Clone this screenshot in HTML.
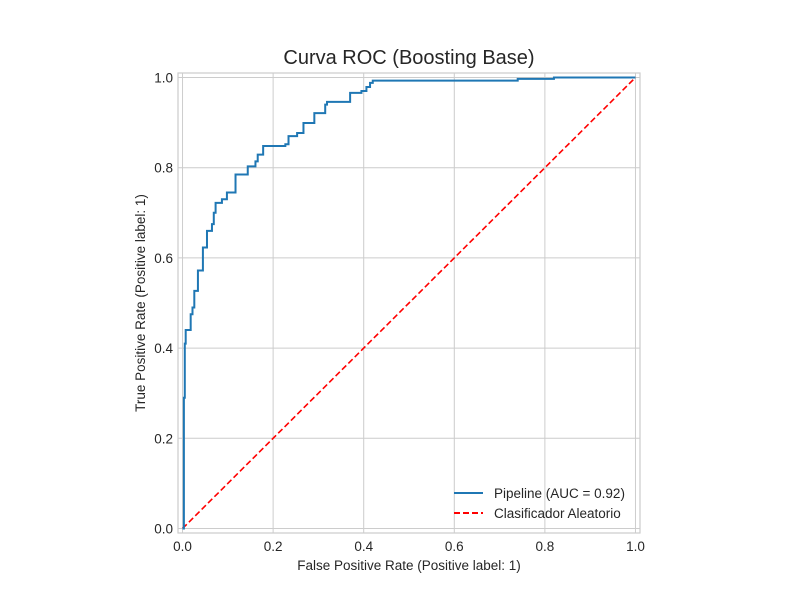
<!DOCTYPE html>
<html><head><meta charset="utf-8">
<style>
body{margin:0;background:#fff;}
svg text{font-family:"Liberation Sans","DejaVu Sans",sans-serif;fill:#262626;}
</style></head>
<body>
<svg id="chart" width="800" height="600" xmlns="http://www.w3.org/2000/svg">
<rect width="800" height="600" fill="#fff"/>
<g id="grid"></g>
<g id="ticks"></g>
<rect x="178" y="73" width="462" height="460" fill="none" stroke="#cccccc" stroke-width="1.2"/>
<g id="series"></g>
<text x="409" y="64" text-anchor="middle" font-size="20">Curva ROC (Boosting Base)</text>
<text x="409" y="570" text-anchor="middle" font-size="13.5">False Positive Rate (Positive label: 1)</text>
<text x="0" y="0" transform="translate(145,303) rotate(-90)" text-anchor="middle" font-size="13.5">True Positive Rate (Positive label: 1)</text>
<g>
<g>
<line x1="454" y1="493" x2="483" y2="493" stroke="#1f77b4" stroke-width="2"/>
<text x="494" y="498" font-size="13.5">Pipeline (AUC = 0.92)</text></g>
<g>
<line x1="454" y1="513" x2="483" y2="513" stroke="#ff0000" stroke-width="2" stroke-dasharray="6,3"/>
<text x="494" y="518" font-size="13.5">Clasificador Aleatorio</text></g>
</g>
</svg>
<script>
const fpr = [0.003,0.005,0.007,0.018,0.022,0.026,0.034,0.045,0.045,0.054,0.065,0.069,0.073,0.087,0.098,0.117,0.144,0.161,0.166,0.178,0.227,0.234,0.253,0.267,0.291,0.291,0.315,0.319,0.370,0.395,0.406,0.414,0.420,0.740,0.820,1.0];
const tpr = [0.29,0.41,0.44,0.475,0.49,0.527,0.572,0.578,0.623,0.66,0.675,0.70,0.722,0.73,0.745,0.785,0.803,0.814,0.829,0.848,0.852,0.87,0.877,0.899,0.899,0.921,0.94,0.946,0.966,0.970,0.979,0.988,0.993,0.997,1.0,1.0];
const diagX = [0,1];
const diagY = [0,1];
const tickValues = [0,0.2,0.4,0.6,0.8,1.0];
const tickLabels = ["0.0","0.2","0.4","0.6","0.8","1.0"];

const NS="http://www.w3.org/2000/svg";
const X0=178, X1=640, Y0=533, Y1=73, LO=-0.01, HI=1.01;
function sx(v){return X0+(v-LO)/(HI-LO)*(X1-X0);}
function sy(v){return Y0-(v-LO)/(HI-LO)*(Y0-Y1);}
function mk(tag,attrs,parent){const e=document.createElementNS(NS,tag);for(const k in attrs)e.setAttribute(k,attrs[k]);parent.appendChild(e);return e;}

const grid=document.getElementById('grid'), ticks=document.getElementById('ticks'), series=document.getElementById('series');
tickValues.forEach((v,i)=>{
  const gx=mk('line',{x1:sx(v),x2:sx(v),y1:Y1,y2:Y0,stroke:'#cccccc','stroke-width':1},grid);
  
  
  const gy=mk('line',{x1:X0,x2:X1,y1:sy(v),y2:sy(v),stroke:'#cccccc','stroke-width':1},grid);
  
  
  const tx=mk('text',{x:sx(v),y:551,'text-anchor':'middle','font-size':13.5},ticks);
  tx.textContent=tickLabels[i];
  
  
  const ty=mk('text',{x:173,y:sy(v)+5,'text-anchor':'end','font-size':13.5},ticks);
  ty.textContent=tickLabels[i];
  
  
});

const d=mk('polyline',{points:diagX.map((x,i)=>sx(x)+','+sy(diagY[i])).join(' '),fill:'none',stroke:'#ff0000','stroke-width':1.6,'stroke-dasharray':'6,3'},series);



let pts=[[sx(0),sy(0)]], px=0, py=0;
for(let i=0;i<fpr.length;i++){
  pts.push([sx(fpr[i]),sy(py)]);
  pts.push([sx(fpr[i]),sy(tpr[i])]);
  px=fpr[i]; py=tpr[i];
}
const r=mk('polyline',{points:pts.map(p=>p.join(',')).join(' '),fill:'none',stroke:'#1f77b4','stroke-width':2,'stroke-linejoin':'miter'},series);


</script>
</body></html>
